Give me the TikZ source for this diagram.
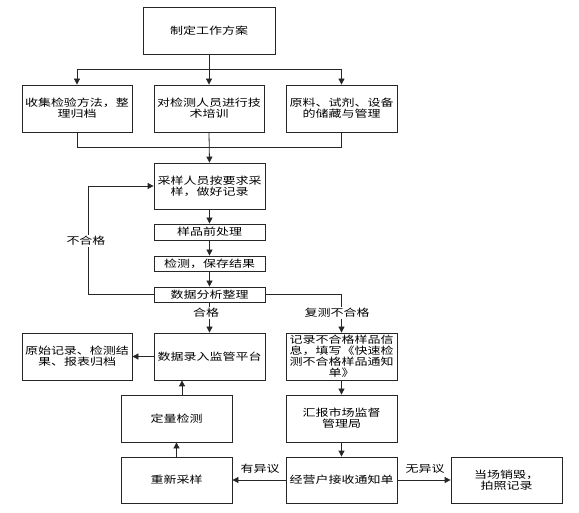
\documentclass[tikz,border=0pt]{standalone}
\usepackage{fontspec}
\newfontfamily\cjk[FakeStretch=1.3]{Noto Sans CJK SC}
\usetikzlibrary{arrows.meta}
\begin{document}
\begin{tikzpicture}[x=1pt,y=-1pt,
  box/.style={draw=black!85, line width=0.8pt, align=center, inner sep=0pt,
    font=\cjk\fontsize{10}{11}\selectfont, text=black},
  lab/.style={fill=white, inner sep=1pt, font=\cjk\fontsize{10}{11}\selectfont, text=black},
  conn/.style={draw=black!85, line width=0.8pt},
  arr/.style={conn, -{Triangle[length=6pt,width=6pt]}}]
\useasboundingbox (0,0) rectangle (579,513);
% nodes
\node[box, minimum width=132pt, minimum height=47pt] (top) at (209,30.5) {制定工作方案};
\node[box, minimum width=110pt, minimum height=47pt] (c1) at (77,108.5) {收集检验方法，整\\理归档};
\node[box, minimum width=110pt, minimum height=47pt] (c2) at (209,108.5) {对检测人员进行技\\术培训};
\node[box, minimum width=111pt, minimum height=47pt] (c3) at (341.5,108.5) {原料、试剂、设备\\的储藏与管理};
\node[box, minimum width=111pt, minimum height=46pt] (samp) at (209.5,186) {采样人员按要求采\\样，做好记录};
\node[box, minimum width=111pt, minimum height=16pt] (pre) at (209.5,232) {样品前处理};
\node[box, minimum width=111pt, minimum height=15pt] (det) at (209.5,263.5) {检测，保存结果};
\node[box, minimum width=111pt, minimum height=15pt] (ana) at (209.5,294.5) {数据分析整理};
\node[box, minimum width=111pt, minimum height=47pt] (entry) at (209.5,356.5) {数据录入监管平台};
\node[box, minimum width=110pt, minimum height=47pt] (arch) at (77,356.5) {原始记录、检测结\\果、报表归档};
\node[box, minimum width=111pt, minimum height=47pt] (quant) at (176.5,418.5) {定量检测};
\node[box, minimum width=111pt, minimum height=46pt] (resamp) at (176.5,480) {重新采样};
\node[box, minimum width=111pt, minimum height=47pt] (rec) at (341.5,356.5) {记录不合格样品信\\息，填写《快速检\\测不合格样品通知\\单》};
\node[box, minimum width=111pt, minimum height=47pt] (rep) at (341.5,418.5) {汇报市场监督\\管理局};
\node[box, minimum width=111pt, minimum height=46pt] (merch) at (341.5,480) {经营户接收通知单};
\node[box, minimum width=111pt, minimum height=46pt] (destroy) at (506.5,480) {当场销毁，\\拍照记录};
% coordinates
\coordinate (split) at (209,69);
\coordinate (merge) at (209,147);
% top to row 2
\draw[arr] (top) -- (c2);
\draw[conn] (c1.north |- split) -- (c3.north |- split);
\draw[arr] (c1.north |- split) -- (c1.north);
\draw[arr] (c3.north |- split) -- (c3.north);
% row 2 to sampling
\draw[conn] (c1.south) -- (c1.south |- merge) -- (c3.south |- merge) -- (c3.south);
\draw[arr] (c2.south) -- (samp.north);
% chain
\draw[arr] (samp) -- (pre);
\draw[arr] (pre) -- (det);
\draw[arr] (det) -- (ana);
% loop back
\coordinate (loopx) at (88,0);
\draw[arr] (ana.west) -- (loopx |- ana.west) -- (loopx |- samp.west) -- (samp.west);
\node[lab] (l1) at (86,241) {不合格};
% pass
\draw[arr] (ana) -- (entry);
\node[lab] (l2) at (206,313) {合格};
% fail
\draw[arr] (ana.east) -- (rec.north |- ana.east) -- (rec.north);
\node[lab] (l3) at (337,313) {复测不合格};
% lower
\draw[arr] (entry.west) -- (arch.east);
\draw[arr] ([xshift=5.5pt]quant.north) -- ([xshift=5.5pt]quant.north |- entry.south);
\draw[arr] (resamp) -- (quant);
\draw[arr] (rec) -- (rep);
\draw[arr] (rep) -- (merch);
\draw[arr] (merch.west) -- (resamp.east);
\draw[arr] (merch.east) -- (destroy.west);
\node[lab, fill=none] (l4) at (260,469) {有异议};
\node[lab, fill=none] (l5) at (425,469) {无异议};
\end{tikzpicture}
\end{document}
